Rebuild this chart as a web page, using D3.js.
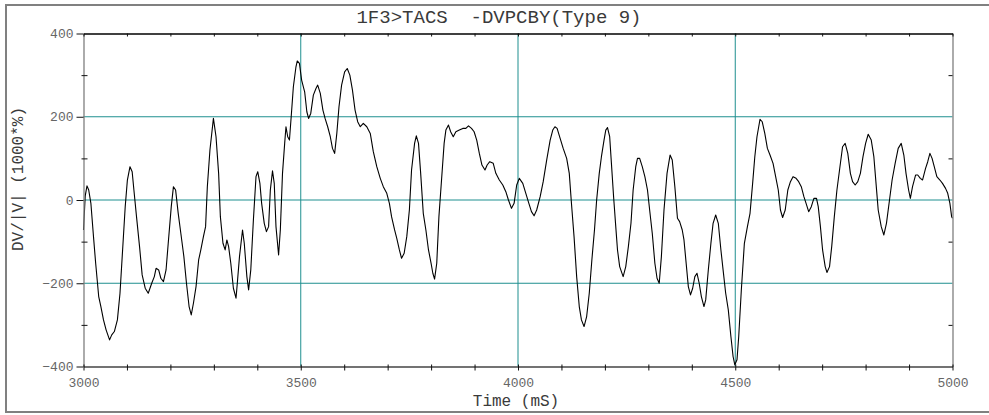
<!DOCTYPE html>
<html>
<head>
<meta charset="utf-8">
<script src="https://cdn.jsdelivr.net/npm/d3@7"></script>
<style>
  body { margin: 0; background: #fff; }
  svg { display: block; }
  text { font-family: "Courier New", Courier, "Nimbus Mono PS", FreeMono, "Liberation Mono", "DejaVu Sans Mono", monospace; }
</style>
</head>
<body>
<svg id="trace"></svg>
<script>
const title = '1F3>TACS  -DVPCBY(Type 9)'
const yLabel = 'DV/|V| (1000*%)'
const xLabel = 'Time (mS)'

const xLabelTicks = [3000, 3500, 4000, 4500, 5000]
const xMinorTicks = d3.range(3000, 5001, 100)
const yLabelTicks = [-400, -200, 0, 200, 400]
const yMinorTicks = [-300, -100, 100, 300]
const xGrid = [3500, 4000, 4500]
const yGrid = [-200, 0, 200]

// ms
const timeMs = [
  3000, 3004, 3008, 3012, 3017, 3023, 3028, 3035, 3040, 3046, 3052, 3060, 3065, 3071, 3078, 3084,
  3090, 3096, 3101, 3107, 3112, 3116, 3122, 3129, 3135, 3142, 3149, 3157, 3163, 3167, 3173, 3178,
  3184, 3190, 3195, 3202, 3207, 3212, 3218, 3224, 3231, 3237, 3243, 3248, 3253, 3259, 3265, 3270,
  3276, 3281, 3285, 3291, 3299, 3305, 3311, 3315, 3321, 3326, 3330, 3334, 3339, 3345, 3351, 3354,
  3359, 3366, 3370, 3376, 3380, 3385, 3391, 3397, 3401, 3406, 3410, 3416, 3421, 3426, 3430, 3435,
  3439, 3443, 3449, 3453, 3458, 3463, 3466, 3470, 3474, 3478, 3483, 3489, 3492, 3497, 3502, 3509,
  3514, 3518, 3523, 3529, 3535, 3539, 3545, 3551, 3556, 3562, 3568, 3573, 3578, 3583, 3588, 3594,
  3601, 3607, 3613, 3619, 3625, 3631, 3637, 3644, 3652, 3660, 3667, 3675, 3683, 3690, 3698, 3704,
  3709, 3716, 3721, 3727, 3732, 3738, 3744, 3750, 3755, 3762, 3766, 3771, 3776, 3782, 3788, 3794,
  3800, 3804, 3808, 3813, 3818, 3824, 3830, 3834, 3840, 3845, 3851, 3857, 3865, 3873, 3880, 3886,
  3893, 3899, 3905, 3911, 3917, 3924, 3929, 3935, 3943, 3949, 3957, 3965, 3972, 3978, 3985, 3991,
  3997, 4003, 4011, 4018, 4025, 4031, 4037, 4043, 4051, 4058, 4066, 4074, 4080, 4085, 4090, 4097,
  4104, 4112, 4118, 4123, 4129, 4135, 4141, 4146, 4152, 4158, 4164, 4170, 4176, 4181, 4187, 4192,
  4198, 4202, 4206, 4211, 4215, 4220, 4225, 4229, 4234, 4242, 4248, 4254, 4260, 4265, 4271, 4275,
  4280, 4286, 4292, 4298, 4303, 4309, 4315, 4320, 4325, 4330, 4336, 4343, 4350, 4355, 4361, 4367,
  4372, 4378, 4382, 4387, 4392, 4397, 4402, 4407, 4412, 4417, 4422, 4428, 4432, 4438, 4444, 4449,
  4455, 4461, 4467, 4472, 4478, 4484, 4490, 4495, 4499, 4504, 4508, 4514, 4521, 4528, 4534, 4540,
  4545, 4550, 4557, 4562, 4568, 4574, 4580, 4587, 4593, 4599, 4604, 4609, 4615, 4621, 4627, 4633,
  4640, 4646, 4652, 4658, 4663, 4669, 4675, 4681, 4687, 4691, 4696, 4701, 4707, 4711, 4717, 4722,
  4728, 4734, 4740, 4747, 4753, 4759, 4765, 4770, 4776, 4782, 4788, 4794, 4800, 4806, 4813, 4819,
  4824, 4829, 4836, 4842, 4848, 4855, 4861, 4868, 4875, 4882, 4888, 4893, 4899, 4903, 4908, 4915,
  4920, 4926, 4931, 4938, 4943, 4948, 4953, 4958, 4964, 4971, 4977, 4984, 4989, 4994, 4998, 5000
]

// DV/|V| in 1000*%
const dvPct = [
  -72, 10, 34, 24, -8, -88, -152, -232, -256, -288, -312, -336, -324, -316, -288, -224,
  -120, -16, 48, 80, 68, 24, -40, -112, -180, -212, -224, -200, -184, -164, -168, -188,
  -196, -168, -104, -16, 32, 24, -32, -80, -136, -200, -256, -276, -248, -208, -144, -120,
  -88, -64, 32, 120, 196, 152, 64, -40, -104, -120, -96, -112, -152, -212, -236, -200,
  -136, -72, -104, -184, -216, -168, -48, 56, 68, 40, -8, -56, -76, -64, 24, 70,
  40, -64, -132, -72, 64, 136, 176, 152, 144, 200, 272, 320, 334, 328, 288, 260,
  212, 196, 208, 252, 268, 276, 256, 216, 196, 176, 152, 124, 112, 160, 224, 276,
  308, 316, 300, 264, 216, 188, 176, 184, 176, 160, 116, 80, 52, 32, 16, -8,
  -40, -72, -92, -120, -140, -128, -88, -24, 72, 136, 154, 136, 64, -32, -72, -120,
  -152, -176, -190, -152, -40, 48, 136, 168, 180, 164, 152, 164, 168, 172, 172, 178,
  172, 164, 144, 112, 84, 72, 84, 92, 88, 64, 48, 36, 20, 0, -20, -8,
  36, 52, 40, 16, -8, -28, -38, -24, 8, 44, 96, 144, 168, 176, 172, 148,
  124, 100, 64, -8, -88, -184, -256, -288, -304, -280, -224, -144, -72, 0, 64, 104,
  144, 168, 174, 152, 88, 8, -64, -120, -160, -184, -160, -112, -56, 24, 80, 100,
  100, 80, 56, 24, -24, -80, -152, -188, -200, -136, -24, 64, 108, 96, 32, -44,
  -52, -72, -96, -152, -208, -228, -212, -184, -176, -200, -232, -256, -240, -168, -104, -56,
  -36, -56, -120, -168, -224, -264, -328, -376, -396, -384, -328, -216, -104, -64, -32, 40,
  104, 152, 194, 188, 160, 124, 108, 88, 56, 24, -24, -42, -24, 24, 44, 56,
  52, 44, 32, 8, -8, -28, -16, 4, 4, -16, -64, -120, -160, -174, -160, -112,
  -40, 24, 72, 128, 136, 112, 64, 44, 36, 44, 64, 104, 136, 158, 144, 104,
  40, -24, -64, -84, -56, 0, 48, 88, 124, 136, 108, 64, 24, 4, 32, 60,
  60, 52, 48, 76, 92, 112, 100, 80, 56, 48, 40, 28, 16, -8, -40, -44
]

const points = timeMs.map((t, i) => ({t, v: dvPct[i]}))

function draw() {

  const width = 989
  const height = 415
  const margin = ({top: 33.5, right: 36.5, bottom: 48.5, left: 83.5})

  const svg = d3.select('svg#trace')
    .attr('viewBox', `0 0 ${width} ${height}`)
    .attr('width', width)
    .attr('height', height)

  const x = d3.scaleLinear()
      .domain([3000, 5000])
      .range([margin.left, width - margin.right])

  const y = d3.scaleLinear()
      .domain([-400, 400])
      .range([height - margin.bottom, margin.top])

  // outer frame, runs off the right edge
  svg.append('rect')
      .attr('x', 6)
      .attr('y', 5)
      .attr('width', 1000)
      .attr('height', 407)
      .attr('fill', 'none')
      .attr('stroke', '#808080')
      .attr('stroke-width', 2)

  // grid
  const grid = svg.append('g')
      .attr('stroke', '#1f8f8f')
      .attr('stroke-width', 1)

  grid.selectAll('line.h')
    .data(yGrid)
    .join('line')
      .attr('class', 'h')
      .attr('x1', x(3000))
      .attr('x2', x(5000))
      .attr('y1', d => y(d))
      .attr('y2', d => y(d))

  grid.selectAll('line.v')
    .data(xGrid)
    .join('line')
      .attr('class', 'v')
      .attr('x1', d => x(d))
      .attr('x2', d => x(d))
      .attr('y1', y(-400))
      .attr('y2', y(400))

  // trace
  const line = d3.line()
      .x(d => x(d.t))
      .y(d => y(d.v))

  svg.append('path')
      .datum(points)
      .attr('d', line)
      .attr('fill', 'none')
      .attr('stroke', '#000')
      .attr('stroke-width', 1.1)
      .attr('stroke-linejoin', 'round')

  const style = g => {
    g.attr('font-family', null).attr('font-size', null)
    g.selectAll('.tick text')
        .attr('font-size', 13)
        .attr('fill', '#666')
    g.selectAll('.tick line').attr('stroke', '#111')
  }

  // left axis
  svg.append('g')
      .attr('transform', `translate(${margin.left},0)`)
      .call(d3.axisLeft(y).tickValues(yLabelTicks).tickSize(7).tickPadding(3).tickSizeOuter(0))
      .call(style)
      .call(g => g.select('.domain').attr('stroke', '#7f7f7f').attr('stroke-width', 1.3))

  svg.append('g')
      .attr('transform', `translate(${margin.left},0)`)
      .call(d3.axisRight(y).tickValues(yMinorTicks).tickSize(4).tickFormat(''))
      .call(g => g.select('.domain').remove())
      .call(g => g.selectAll('.tick line').attr('x1', -2).attr('stroke', '#111'))

  // right axis
  svg.append('g')
      .attr('transform', `translate(${width - margin.right},0)`)
      .call(d3.axisLeft(y).tickValues(yMinorTicks).tickSize(4).tickFormat('').tickSizeOuter(0))
      .call(g => g.select('.domain').attr('stroke', '#7f7f7f').attr('stroke-width', 1.3))
      .call(g => g.selectAll('.tick line').attr('stroke', '#111'))

  // bottom axis
  svg.append('g')
      .attr('transform', `translate(0,${height - margin.bottom})`)
      .call(d3.axisBottom(x).tickValues(xMinorTicks).tickSize(4).tickSizeOuter(0)
        .tickFormat(d => xLabelTicks.includes(d) ? d : ''))
      .call(style)
      .call(g => g.selectAll('.tick line').attr('y1', -2))
      .call(g => g.selectAll('.tick text').attr('y', 11))
      .call(g => g.select('.domain').attr('stroke', '#444').attr('stroke-width', 1.3))

  // top axis
  svg.append('g')
      .attr('transform', `translate(0,${margin.top})`)
      .call(d3.axisBottom(x).tickValues(xMinorTicks).tickSize(3).tickFormat('').tickSizeOuter(0))
      .call(g => g.select('.domain').attr('stroke', '#000').attr('stroke-width', 1.3))
      .call(g => g.selectAll('.tick line').attr('stroke', '#111'))

  // labels
  svg.append('text')
      .attr('x', 499)
      .attr('y', 23)
      .attr('text-anchor', 'middle')
      .attr('font-size', 19)
      .attr('fill', '#3a3a3a')
      .attr('xml:space', 'preserve')
      .style('white-space', 'pre')
      .text(title)

  svg.append('text')
      .attr('x', 516)
      .attr('y', 406)
      .attr('text-anchor', 'middle')
      .attr('font-size', 16)
      .attr('fill', '#3a3a3a')
      .text(xLabel)

  svg.append('text')
      .attr('transform', 'translate(23,179) rotate(-90)')
      .attr('text-anchor', 'middle')
      .attr('font-size', 16)
      .attr('fill', '#3a3a3a')
      .text(yLabel)

  return svg
}

draw()
</script>
</body>
</html>
